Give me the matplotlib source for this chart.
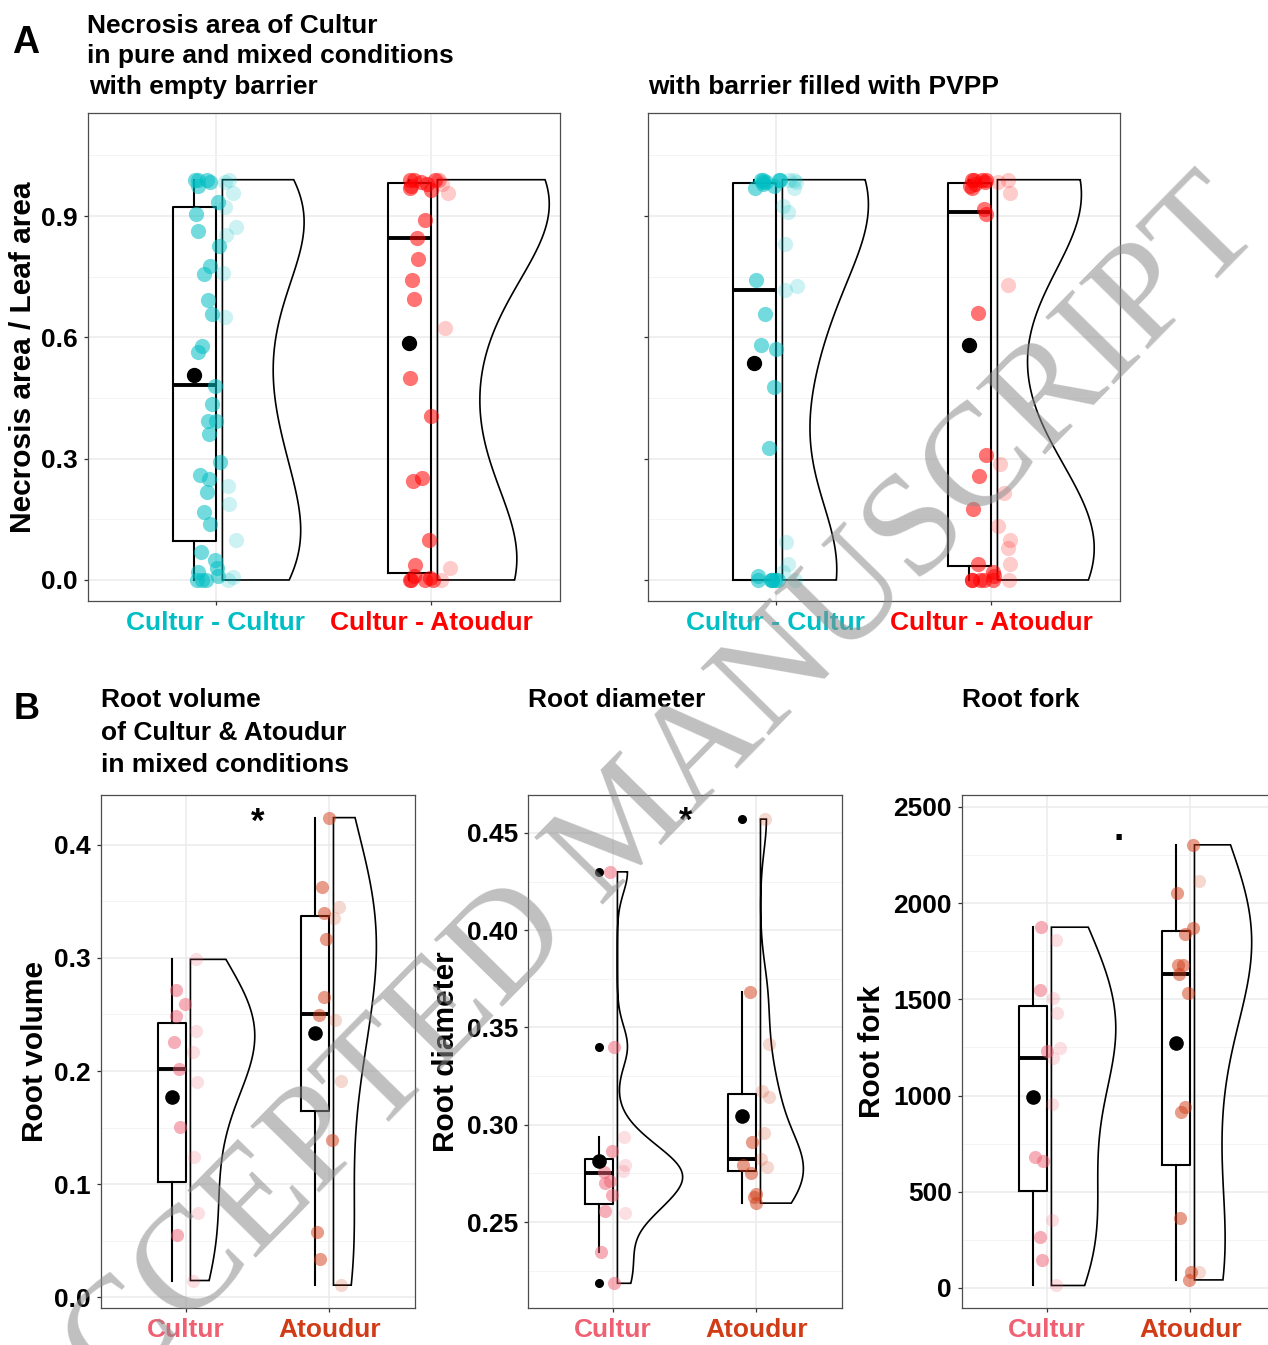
import numpy as np
import matplotlib
matplotlib.use("Agg")
import matplotlib.pyplot as plt
from matplotlib.patches import Polygon
from matplotlib import font_manager as fm

# ---------------- data ----------------
cat_A = ["Cultur - Cultur", "Cultur - Atoudur"]
cat_B = ["Cultur", "Atoudur"]
col_A = ["#00BFC4", "#FF0000"]
col_B = ["#EF6072", "#D13C16"]

# Panel A1: necrosis area, empty barrier (solid = main jitter, light = faint jitter)
a1_cc = [0.99, 0.99, 0.985, 0.99, 0.975, 0.936, 0.905, 0.863, 0.826, 0.777, 0.757,
         0.693, 0.658, 0.579, 0.565, 0.481, 0.435, 0.394, 0.392, 0.361, 0.292, 0.260,
         0.250, 0.218, 0.168, 0.138, 0.069, 0.049, 0.03, 0.02, 0.0, 0.0, 0.0, 0.01]
a1_cc_light = [0.99, 0.985, 0.957, 0.923, 0.874, 0.853, 0.759, 0.651, 0.233, 0.188,
               0.099, 0.007, 0.0]
a1_ca = [0.99, 0.99, 0.99, 0.985, 0.98, 0.975, 0.97, 0.965, 0.890, 0.846, 0.794,
         0.742, 0.696, 0.500, 0.406, 0.253, 0.246, 0.099, 0.037, 0.0, 0.0, 0.0,
         0.0, 0.005, 0.01]
a1_ca_light = [0.99, 0.99, 0.98, 0.957, 0.624, 0.030, 0.0]
a1_q1 = [0.097, 0.017]
a1_med = [0.482, 0.845]
a1_q3 = [0.923, 0.983]
a1_lo = [0.0, 0.0]
a1_hi = [0.99, 0.99]
a1_mean = [0.507, 0.587]

# Panel A2: necrosis area, barrier filled with PVPP
a2_cc = [0.99, 0.99, 0.99, 0.99, 0.985, 0.985, 0.98, 0.975, 0.97, 0.742, 0.658,
         0.580, 0.571, 0.478, 0.327, 0.0, 0.0, 0.0, 0.0, 0.0, 0.0, 0.01]
a2_cc_light = [0.99, 0.99, 0.985, 0.969, 0.925, 0.911, 0.831, 0.728, 0.717, 0.095,
               0.040, 0.02, 0.0]
a2_ca = [0.99, 0.99, 0.99, 0.99, 0.985, 0.98, 0.975, 0.97, 0.917, 0.905, 0.660,
         0.309, 0.258, 0.175, 0.04, 0.0, 0.0, 0.0, 0.0, 0.0, 0.01, 0.02]
a2_ca_light = [0.99, 0.985, 0.956, 0.730, 0.287, 0.215, 0.134, 0.10, 0.08, 0.04, 0.0]
a2_q1 = [0.0, 0.035]
a2_med = [0.717, 0.909]
a2_q3 = [0.983, 0.983]
a2_lo = [0.0, 0.0]
a2_hi = [0.99, 0.99]
a2_mean = [0.536, 0.580]

# Panel B1: root volume
b1_cu = [0.272, 0.259, 0.249, 0.226, 0.2016, 0.1505, 0.0552]
b1_cu_light = [0.2987, 0.2356, 0.2167, 0.19, 0.1237, 0.0748, 0.0148]
b1_at = [0.424, 0.3628, 0.3397, 0.3167, 0.265, 0.2498, 0.1388, 0.0574, 0.0338]
b1_at_light = [0.3454, 0.335, 0.245, 0.1915, 0.0107]
b1_q1 = [0.1016, 0.1647]
b1_med = [0.2022, 0.2508]
b1_q3 = [0.2426, 0.3372]
b1_lo = [0.0148, 0.0107]
b1_hi = [0.2987, 0.424]
b1_mean = [0.1767, 0.2334]
b1_out = [[], []]

# Panel B2: root diameter
b2_cu = [0.43, 0.3402, 0.2864, 0.2759, 0.2709, 0.27, 0.2637, 0.2555, 0.2345, 0.2185]
b2_cu_light = [0.2937, 0.2791, 0.2764, 0.2546]
b2_at = [0.3684, 0.291, 0.2791, 0.275, 0.2646, 0.2628, 0.2597]
b2_at_light = [0.4571, 0.3414, 0.3174, 0.3141, 0.2955, 0.2824, 0.2782]
b2_q1 = [0.2595, 0.276]
b2_med = [0.275, 0.2824]
b2_q3 = [0.2824, 0.3156]
b2_lo = [0.2345, 0.2597]
b2_hi = [0.2937, 0.3684]
b2_mean = [0.2813, 0.3043]
b2_out = [[0.43, 0.3402, 0.2185], [0.4571]]

# Panel B3: root fork
b3_cu = [1875, 1550, 1234, 682, 658, 264, 143]
b3_cu_light = [1810, 1506, 1431, 1245, 1193, 955, 351, 13]
b3_at = [2303, 2052, 1872, 1838, 1677, 1677, 1630, 1534, 942, 914, 366, 82, 42]
b3_at_light = [2117, 82]
b3_q1 = [502, 639]
b3_med = [1197, 1630]
b3_q3 = [1468, 1853]
b3_lo = [13, 42]
b3_hi = [1875, 2303]
b3_mean = [994, 1273]

# ---------------- fonts ----------------
def _has(name):
    try:
        p = fm.findfont(fm.FontProperties(family=name, weight="bold"),
                        fallback_to_default=False)
        return fm.FontProperties(fname=p).get_name() == name
    except Exception:
        return False

NARROW = _has("Liberation Sans Narrow")
if NARROW:
    HF = ["Liberation Sans Narrow", "Liberation Sans", "DejaVu Sans"]
    HS = 22
else:
    HF = ["Liberation Sans", "DejaVu Sans"]
    HS = 19
VF = ["Liberation Sans", "DejaVu Sans"]
VS = 21.5
LETTER_F = HF
plt.rcParams["font.family"] = VF

W, H = 1268, 1345
fig = plt.figure(figsize=(W / 100, H / 100), dpi=100)


def add_ax(x0, y0, x1, y1):
    return fig.add_axes([x0 / W, 1 - y1 / H, (x1 - x0) / W, (y1 - y0) / H])


def ftext(x, y, s, **kw):
    fig.text(x / W, 1 - y / H, s, **kw)


rng = np.random.default_rng(11)


def half_violin(ax, vals, base, maxw):
    v = np.asarray(vals, float)
    n = len(v)
    sd = v.std(ddof=1)
    q75, q25 = np.percentile(v, [75, 25])
    lo = min(sd, (q75 - q25) / 1.34) if q75 > q25 else sd
    bw = 0.9 * lo * n ** -0.2
    y = np.linspace(v.min(), v.max(), 400)
    d = np.exp(-0.5 * ((y[:, None] - v[None, :]) / bw) ** 2).sum(1)
    d = d / d.max() * maxw
    xs = np.concatenate([[base], base + d, [base]])
    ys = np.concatenate([[y[0]], y, [y[-1]]])
    ax.add_patch(Polygon(np.column_stack([xs, ys]), closed=True, fill=False,
                         ec="black", lw=1.2, zorder=2.5))


def panel(ax, solids, lights, q1, med, q3, lo, hi, mean, outs, colors, maxws,
          ylim, yticks, yminor, ylabels, ptsize, a_solid, a_light, meansize):
    ax.set_xlim(0.405, 2.6)
    ax.set_ylim(*ylim)
    ax.set_yticks(yticks)
    ax.set_yticks(yminor, minor=True)
    ax.set_xticks([1, 2])
    ax.set_xticks([], minor=True)
    ax.set_axisbelow(True)
    ax.grid(which="major", color="#EBEBEB", lw=1.1)
    ax.grid(which="minor", axis="y", color="#F3F3F3", lw=0.6)
    for sp in ax.spines.values():
        sp.set_color("#4D4D4D")
        sp.set_linewidth(0.9)
    ax.tick_params(which="major", length=3.2, width=0.9, color="#333333", pad=4)
    ax.tick_params(which="minor", length=0)
    if ylabels is None:
        ax.set_yticklabels([])
    else:
        ax.set_yticklabels(ylabels, family=HF, fontsize=HS, fontweight="bold",
                           color="black")
    for i in range(2):
        c = i + 1
        s = solids[i]
        l = lights[i]
        xs = c + rng.uniform(-0.10, 0.02, len(s))
        ax.scatter(xs, s, s=ptsize, color=colors[i], alpha=a_solid, lw=0, zorder=3)
        xl = c + rng.uniform(0.03, 0.10, len(l))
        ax.scatter(xl, l, s=ptsize, color=colors[i], alpha=a_light, lw=0, zorder=3)
        half_violin(ax, list(s) + list(l), c + 0.03, maxws[i])
    stats = [dict(med=med[i], q1=q1[i], q3=q3[i], whislo=lo[i], whishi=hi[i],
                  fliers=outs[i], mean=mean[i]) for i in range(2)]
    ax.bxp(stats, positions=[0.9, 1.9], widths=0.2, showcaps=False,
           showfliers=True, showmeans=True, manage_ticks=False, zorder=2.6,
           boxprops=dict(color="black", lw=1.5),
           whiskerprops=dict(color="black", lw=1.5),
           medianprops=dict(color="black", lw=2.8, solid_capstyle="butt"),
           meanprops=dict(marker="o", markerfacecolor="black",
                          markeredgecolor="black", markersize=meansize),
           flierprops=dict(marker="o", markerfacecolor="black",
                           markeredgecolor="black", markersize=5.5))
    for ln in ax.lines:
        ln.set_zorder(4 if ln.get_marker() == "o" else 2.6)


# ---------------- Panel A ----------------
ax1 = add_ax(88, 113, 560, 601)
panel(ax1, [a1_cc, a1_ca], [a1_cc_light, a1_ca_light], a1_q1, a1_med, a1_q3,
      a1_lo, a1_hi, a1_mean, [[], []], col_A, [0.38, 0.52],
      (-0.052, 1.155), [0, 0.3, 0.6, 0.9], [0.15, 0.45, 0.75, 1.05],
      ["0.0", "0.3", "0.6", "0.9"], 120, 0.55, 0.2, 10)
ax1.set_xticklabels(cat_A, family=HF, fontsize=HS, fontweight="bold")
for lab, c in zip(ax1.get_xticklabels(), col_A):
    lab.set_color(c)
ax1.set_ylabel("Necrosis area / Leaf area", fontsize=VS, fontweight="bold",
               family=VF, va="center")
ax1.yaxis.set_label_coords((23 - 88) / 472, 0.5)

ax2 = add_ax(648, 113, 1120, 601)
panel(ax2, [a2_cc, a2_ca], [a2_cc_light, a2_ca_light], a2_q1, a2_med, a2_q3,
      a2_lo, a2_hi, a2_mean, [[], []], col_A, [0.40, 0.45],
      (-0.052, 1.155), [0, 0.3, 0.6, 0.9], [0.15, 0.45, 0.75, 1.05],
      None, 120, 0.55, 0.2, 10)
ax2.set_xticklabels(cat_A, family=HF, fontsize=HS, fontweight="bold")
for lab, c in zip(ax2.get_xticklabels(), col_A):
    lab.set_color(c)

ftext(12, 53, "A", family=LETTER_F, fontsize=33 if NARROW else 27,
      fontweight="bold", va="baseline")
ftext(87, 33, "Necrosis area of Cultur", family=HF, fontsize=HS,
      fontweight="bold", va="baseline")
ftext(87, 63, "in pure and mixed conditions", family=HF, fontsize=HS,
      fontweight="bold", va="baseline")
ftext(89, 94, "with empty barrier", family=HF, fontsize=HS,
      fontweight="bold", va="baseline")
ftext(648, 94, "with barrier filled with PVPP", family=HF, fontsize=HS,
      fontweight="bold", va="baseline")

# ---------------- Panel B ----------------
bx1 = add_ax(101, 795, 415, 1308)
panel(bx1, [b1_cu, b1_at], [b1_cu_light, b1_at_light], b1_q1, b1_med, b1_q3,
      b1_lo, b1_hi, b1_mean, b1_out, col_B, [0.45, 0.30],
      (-0.0095, 0.444), [0, 0.1, 0.2, 0.3, 0.4], [0.05, 0.15, 0.25, 0.35],
      ["0.0", "0.1", "0.2", "0.3", "0.4"], 90, 0.5, 0.2, 9.5)
bx1.set_ylabel("Root volume", fontsize=VS, fontweight="bold", family=VF, va="center")
bx1.yaxis.set_label_coords((35 - 101) / 314, 0.5)
bx1.text(1.5, 0.42, "*", ha="center", va="center", fontsize=HS + 6,
         fontweight="bold", family=HF)

bx2 = add_ax(528, 795, 842, 1308)
panel(bx2, [b2_cu, b2_at], [b2_cu_light, b2_at_light], b2_q1, b2_med, b2_q3,
      b2_lo, b2_hi, b2_mean, b2_out, col_B, [0.456, 0.30],
      (0.2058, 0.4695), [0.25, 0.30, 0.35, 0.40, 0.45],
      [0.225, 0.275, 0.325, 0.375, 0.425],
      ["0.25", "0.30", "0.35", "0.40", "0.45"], 90, 0.5, 0.2, 9.5)
bx2.set_ylabel("Root diameter", fontsize=VS, fontweight="bold", family=VF, va="center")
bx2.yaxis.set_label_coords((446 - 528) / 314, 0.5)
bx2.text(1.505, 0.4557, "*", ha="center", va="center", fontsize=HS + 6,
         fontweight="bold", family=HF)

bx3 = add_ax(962, 795, 1276, 1308)
panel(bx3, [b3_cu, b3_at], [b3_cu_light, b3_at_light], b3_q1, b3_med, b3_q3,
      b3_lo, b3_hi, b3_mean, [[], []], col_B, [0.45, 0.40],
      (-104, 2562), [0, 500, 1000, 1500, 2000, 2500],
      [250, 750, 1250, 1750, 2250],
      ["0", "500", "1000", "1500", "2000", "2500"], 90, 0.5, 0.2, 9.5)
bx3.set_ylabel("Root fork", fontsize=VS, fontweight="bold", family=VF, va="center")
bx3.yaxis.set_label_coords((872 - 962) / 314, 0.5)
bx3.text(1.497, 2330, ".", ha="center", va="baseline", fontsize=HS + 8,
         fontweight="bold", family=HF)

for bx in (bx1, bx2, bx3):
    bx.set_xticklabels(cat_B, family=HF, fontsize=HS, fontweight="bold")
    for lab, c in zip(bx.get_xticklabels(), col_B):
        lab.set_color(c)

ftext(14, 719, "B", family=LETTER_F, fontsize=32 if NARROW else 26,
      fontweight="bold", va="baseline")
ftext(101, 707, "Root volume", family=HF, fontsize=HS, fontweight="bold", va="baseline")
ftext(101, 740, "of Cultur & Atoudur", family=HF, fontsize=HS, fontweight="bold",
      va="baseline")
ftext(101, 772, "in mixed conditions", family=HF, fontsize=HS, fontweight="bold",
      va="baseline")
ftext(528, 707, "Root diameter", family=HF, fontsize=HS, fontweight="bold", va="baseline")
ftext(962, 707, "Root fork", family=HF, fontsize=HS, fontweight="bold", va="baseline")

# watermark
ftext(628, 829, "ACCEPTED MANUSCRIPT", rotation=45.5, rotation_mode="anchor",
      ha="center", va="center", fontsize=106,
      family=["Liberation Serif", "DejaVu Serif"], color="#8c8c8c", alpha=0.55,
      zorder=20)

fig.savefig("out.png", dpi=100)
